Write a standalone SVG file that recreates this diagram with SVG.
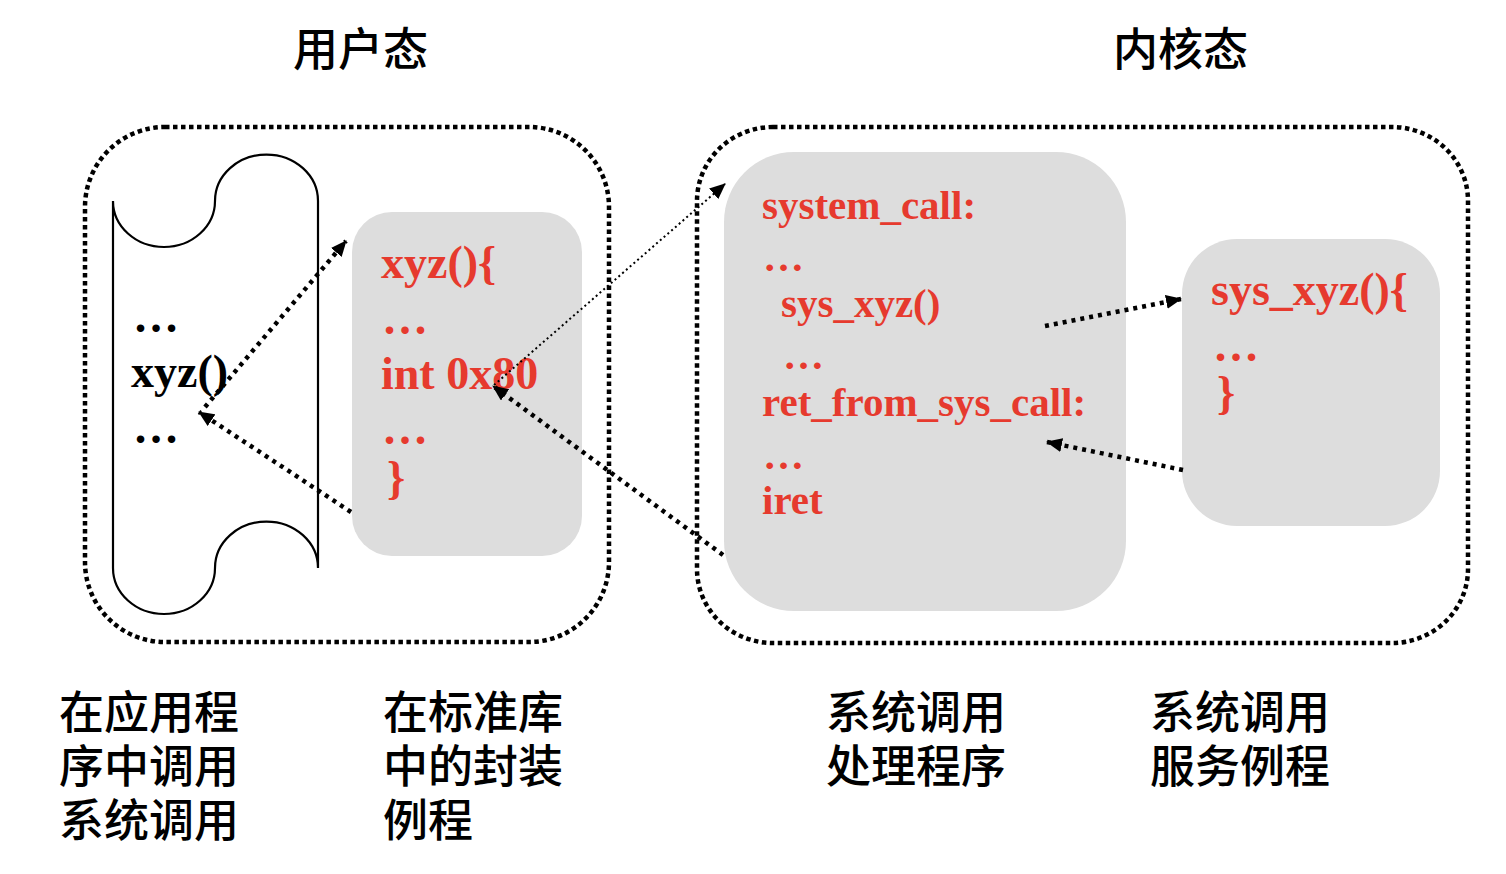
<svg xmlns="http://www.w3.org/2000/svg" width="1506" height="874" viewBox="0 0 1506 874">
<style>
.zh{font-family:"Noto Sans CJK SC","Noto Sans",sans-serif;font-size:45px;font-weight:500;fill:#000}
.code{font-family:"Liberation Serif","Times New Roman",serif;font-weight:bold;font-size:46px;fill:#e63a2e}
.mid{font-size:41px}
.blk{fill:#000}
.frame{fill:none;stroke:#000;stroke-width:4.5;stroke-dasharray:4.5 3.5}
.box{fill:#dddddd}
.thick{fill:none;stroke:#000;stroke-width:4.5;stroke-dasharray:4 5}
.thin{fill:none;stroke:#000;stroke-width:2;stroke-dasharray:2 3}
</style>
<defs>
<marker id="ah" markerUnits="userSpaceOnUse" viewBox="0 0 16 14" refX="15" refY="7" markerWidth="16" markerHeight="14" orient="auto">
<path d="M0,0 L16,7 L0,14 Z" fill="#000"/>
</marker>
</defs>
<rect width="1506" height="874" fill="#fff"/>

<g id="title-user"><text class="zh" x="293" y="66">用户态</text></g>
<g id="title-kernel"><text class="zh" x="1113" y="66">内核态</text></g>

<g id="user-frame"><rect class="frame" x="85" y="127" width="524" height="515" rx="80" ry="80"/></g>
<g id="kernel-frame"><rect class="frame" x="697" y="127" width="771" height="516" rx="76" ry="74"/></g>

<g id="app-scroll">
<path d="M113,201 A51,46 0 0 0 215,201 A51,46 0 0 1 318,201 L318,568 A51,46 0 0 0 215,568 A51,46 0 0 1 113,568 Z" fill="none" stroke="#000" stroke-width="2.2"/>
<text class="code blk" x="133" y="332">…</text>
<text class="code blk" x="131" y="387">xyz()</text>
<text class="code blk" x="133" y="443">…</text>
</g>

<g id="wrapper">
<rect class="box" x="352" y="212" width="230" height="344" rx="40" ry="40"/>
<text class="code" x="381" y="278">xyz(){</text>
<text class="code" x="382" y="334">…</text>
<text class="code" x="381" y="389">int 0x80</text>
<text class="code" x="382" y="444">…</text>
<text class="code" x="387" y="493">}</text>
</g>

<g id="handler">
<rect class="box" x="724" y="152" width="402" height="459" rx="70" ry="70"/>
<text class="code mid" x="762" y="219">system_call:</text>
<text class="code mid" x="763" y="271">…</text>
<text class="code mid" x="781" y="317">sys_xyz()</text>
<text class="code mid" x="783" y="369">…</text>
<text class="code mid" x="762" y="416">ret_from_sys_call:</text>
<text class="code mid" x="763" y="469">…</text>
<text class="code mid" x="762" y="514">iret</text>
</g>

<g id="service">
<rect class="box" x="1182" y="239" width="258" height="287" rx="55" ry="55"/>
<text class="code" x="1211" y="305">sys_xyz(){</text>
<text class="code" x="1213" y="361">…</text>
<text class="code" x="1217" y="408">}</text>
</g>

<g id="connectors">
<line class="thick" x1="205" y1="407" x2="346" y2="241" marker-end="url(#ah)"/>
<line class="thick" x1="351" y1="512" x2="199" y2="412" marker-end="url(#ah)"/>
<line class="thin" x1="494" y1="385" x2="725" y2="184" marker-end="url(#ah)"/>
<line class="thick" x1="723" y1="555" x2="493" y2="386" marker-end="url(#ah)"/>
<line class="thick" x1="1045" y1="326" x2="1181" y2="299" marker-end="url(#ah)"/>
<line class="thick" x1="1183" y1="470" x2="1047" y2="442" marker-end="url(#ah)"/>
</g>

<g id="label-app">
<text class="zh" x="59" y="729">在应用程</text>
<text class="zh" x="59" y="783">序中调用</text>
<text class="zh" x="59" y="837">系统调用</text>
</g>
<g id="label-lib">
<text class="zh" x="383" y="729">在标准库</text>
<text class="zh" x="383" y="783">中的封装</text>
<text class="zh" x="383" y="837">例程</text>
</g>
<g id="label-handler">
<text class="zh" x="826" y="729">系统调用</text>
<text class="zh" x="826" y="783">处理程序</text>
</g>
<g id="label-service">
<text class="zh" x="1150" y="729">系统调用</text>
<text class="zh" x="1150" y="783">服务例程</text>
</g>
</svg>
